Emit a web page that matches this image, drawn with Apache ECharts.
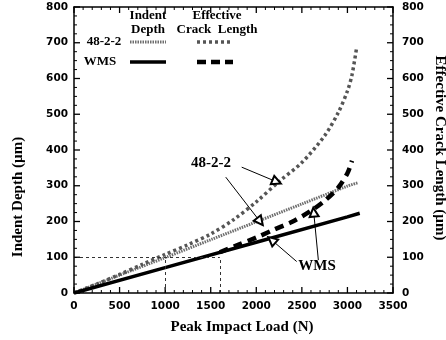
<!DOCTYPE html>
<html>
<head>
<meta charset="utf-8">
<script src="https://cdn.jsdelivr.net/npm/echarts@6/dist/echarts.min.js"></script>
<style>
html,body{margin:0;padding:0;background:#fff;}
#main{width:446px;height:340px;}
</style>
</head>
<body>
<div id="main"></div>
<script>
// ---- data ----
const xTicks = [0, 500, 1000, 1500, 2000, 2500, 3000, 3500];
const yTicks = [0, 100, 200, 300, 400, 500, 600, 700, 800];
const xMinorStep = 100;
const yMinorStep = 25;

const loadsIndent482 = [0, 500, 1000, 1500, 2000, 2500, 3000, 3110];
const indent482 = [0, 50, 99, 149, 199, 249, 299, 308];

const loadsCrack482 = [0, 250, 500, 750, 1000, 1250, 1500, 1750, 2000, 2250, 2500, 2750, 2900, 3000, 3050, 3100];
const crack482 = [0, 25, 52, 80, 108, 135, 165, 205, 255, 312, 365, 440, 505, 565, 610, 685];

const loadsIndentWMS = [0, 1000, 2000, 3000, 3135];
const indentWMS = [0, 71, 142, 213, 223];

const loadsCrackWMS = [1600, 1800, 2000, 2200, 2400, 2600, 2750, 2900, 3000, 3050];
const crackWMS = [114, 135, 155, 178, 200, 230, 258, 295, 335, 370];

// reference guide lines (value 100 µm at 1000 N and 1600 N)
const guideDepth = 100;
const guideLoads = [1000, 1600];

// annotation arrows: [from, to] in data units
const arrows482 = [[[1840, 352], [2224, 311]], [[1665, 324], [2041, 200]]];
const arrowsWMS = [[[2443, 88], [2170, 148]], [[2681, 92], [2630, 226]]];

function pairs(xs, ys) { return xs.map((x, i) => [x, ys[i]]); }

const SERIF = '"Liberation Serif","DejaVu Serif",serif';
const SANS = '"DejaVu Sans","Liberation Sans",sans-serif';

const xMin = xTicks[0], xMax = xTicks[xTicks.length - 1];
const yMin = yTicks[0], yMax = yTicks[yTicks.length - 1];

// inside tick marks on all four sides: [value, side, length]
const tickData = [];
for (let v = xMin; v <= xMax; v += xMinorStep) {
  const len = (v % (xTicks[1] - xTicks[0]) === 0) ? 6 : 3;
  tickData.push([v, 0, len], [v, 1, len]);
}
for (let v = yMin; v <= yMax; v += yMinorStep) {
  const len = (v % (yTicks[1] - yTicks[0]) === 0) ? 6 : 3;
  tickData.push([v, 2, len], [v, 3, len]);
}

const chart = echarts.init(document.getElementById('main'), null, {renderer: 'canvas'});

function xAx(pos, showLabel) {
  return {
    type: 'value', position: pos, min: xMin, max: xMax, interval: xTicks[1] - xTicks[0],
    axisLine: {show: true, onZero: false, lineStyle: {color: '#000', width: 1.5}},
    axisTick: {show: false},
    minorTick: {show: false},
    axisLabel: {show: showLabel, margin: 8, color: '#000', fontFamily: SANS, fontWeight: 'bold', fontSize: 10.5,
                formatter: v => String(v)},
    splitLine: {show: false}
  };
}
function yAx(pos, margin) {
  return {
    type: 'value', position: pos, min: yMin, max: yMax, interval: yTicks[1] - yTicks[0],
    axisLine: {show: true, onZero: false, lineStyle: {color: '#000', width: 1.5}},
    axisTick: {show: false},
    minorTick: {show: false},
    axisLabel: {show: true, margin: margin, color: '#000', fontFamily: SANS, fontWeight: 'bold', fontSize: 10.5,
                formatter: v => String(v)},
    splitLine: {show: false}
  };
}

function arrowData(list) {
  return list.map(a => [{coord: a[0]}, {coord: a[1]}]);
}

const guideLines = [
  [{coord: [0, guideDepth]}, {coord: [guideLoads[1], guideDepth]}],
  [{coord: [guideLoads[0], 0]}, {coord: [guideLoads[0], guideDepth]}],
  [{coord: [guideLoads[1], 0]}, {coord: [guideLoads[1], guideDepth]}]
];

function renderTick(params, api) {
  const v = api.value(0), side = api.value(1), len = api.value(2);
  let p, x2, y2;
  if (side === 0) { p = api.coord([v, yMin]); x2 = p[0]; y2 = p[1] - len; }
  else if (side === 1) { p = api.coord([v, yMax]); x2 = p[0]; y2 = p[1] + len; }
  else if (side === 2) { p = api.coord([xMin, v]); x2 = p[0] + len; y2 = p[1]; }
  else { p = api.coord([xMax, v]); x2 = p[0] - len; y2 = p[1]; }
  return {type: 'line', shape: {x1: p[0], y1: p[1], x2: x2, y2: y2},
          style: {stroke: '#000', lineWidth: len > 4 ? 1.3 : 1}};
}

const option = {
  backgroundColor: '#fff',
  animation: false,
  grid: {left: 74, right: 53, top: 7, bottom: 47},
  xAxis: [xAx('bottom', true), xAx('top', false)],
  yAxis: [yAx('left', 6), yAx('right', 9)],
  series: [
    {
      name: 'ticks', type: 'custom', xAxisIndex: 0, yAxisIndex: 0,
      data: tickData, renderItem: renderTick, clip: false, silent: true, z: 5
    },
    {
      name: '48-2-2 Indent Depth', type: 'line', xAxisIndex: 0, yAxisIndex: 0,
      data: pairs(loadsIndent482, indent482), showSymbol: false, smooth: 0.3,
      lineStyle: {color: '#6e6e6e', width: 3, type: [1.5, 1]},
      markLine: {
        silent: true, symbol: ['none', 'emptyTriangle'], symbolSize: 9,
        label: {show: false}, lineStyle: {color: '#000', width: 1, type: 'solid'},
        emphasis: {disabled: true},
        data: arrowData(arrows482)
      }
    },
    {
      name: '48-2-2 Effective Crack Length', type: 'line', xAxisIndex: 0, yAxisIndex: 1,
      data: pairs(loadsCrack482, crack482), showSymbol: false, smooth: 0.3,
      lineStyle: {color: '#555', width: 3.5, type: [3, 3]}
    },
    {
      name: 'WMS Indent Depth', type: 'line', xAxisIndex: 0, yAxisIndex: 0,
      data: pairs(loadsIndentWMS, indentWMS), showSymbol: false,
      lineStyle: {color: '#000', width: 3.5, type: 'solid'},
      markLine: {
        silent: true, symbol: ['none', 'emptyTriangle'], symbolSize: 9,
        label: {show: false}, lineStyle: {color: '#000', width: 1, type: 'solid'},
        emphasis: {disabled: true},
        data: arrowData(arrowsWMS)
      }
    },
    {
      name: 'WMS Effective Crack Length', type: 'line', xAxisIndex: 0, yAxisIndex: 1,
      data: pairs(loadsCrackWMS, crackWMS), showSymbol: false, smooth: 0.3,
      lineStyle: {color: '#000', width: 4.5, type: [9, 6]},
      markLine: {
        silent: true, symbol: ['none', 'none'],
        label: {show: false}, lineStyle: {color: '#333', width: 1, type: [3, 3]},
        emphasis: {disabled: true},
        data: guideLines
      }
    }
  ],
  graphic: [
    // axis titles
    {type: 'text', x: 18, y: 197, rotation: Math.PI / 2,
     style: {text: 'Indent Depth (\u00b5m)', font: 'bold 15px ' + SERIF, fill: '#000', align: 'center', verticalAlign: 'middle'}},
    {type: 'text', x: 440, y: 148, rotation: -Math.PI / 2,
     style: {text: 'Effective Crack Length (\u00b5m)', font: 'bold 15px ' + SERIF, fill: '#000', align: 'center', verticalAlign: 'middle'}},
    {type: 'text', x: 242, y: 327,
     style: {text: 'Peak Impact Load (N)', font: 'bold 15px ' + SERIF, fill: '#000', align: 'center', verticalAlign: 'middle'}},
    // legend headers
    {type: 'text', x: 148, y: 16, style: {text: 'Indent', font: 'bold 13px ' + SERIF, fill: '#000', align: 'center', verticalAlign: 'middle'}},
    {type: 'text', x: 148, y: 30, style: {text: 'Depth', font: 'bold 13px ' + SERIF, fill: '#000', align: 'center', verticalAlign: 'middle'}},
    {type: 'text', x: 217, y: 16, style: {text: 'Effective', font: 'bold 13px ' + SERIF, fill: '#000', align: 'center', verticalAlign: 'middle'}},
    {type: 'text', x: 217, y: 30, style: {text: 'Crack  Length', font: 'bold 13px ' + SERIF, fill: '#000', align: 'center', verticalAlign: 'middle'}},
    {type: 'text', x: 104, y: 42, style: {text: '48-2-2', font: 'bold 13px ' + SERIF, fill: '#000', align: 'center', verticalAlign: 'middle'}},
    {type: 'text', x: 100, y: 62, style: {text: 'WMS', font: 'bold 13px ' + SERIF, fill: '#000', align: 'center', verticalAlign: 'middle'}},
    // legend samples
    {type: 'line', shape: {x1: 130, y1: 42, x2: 166, y2: 42}, style: {stroke: '#6e6e6e', lineWidth: 3, lineDash: [1.5, 1]}},
    {type: 'line', shape: {x1: 197, y1: 42, x2: 233, y2: 42}, style: {stroke: '#555', lineWidth: 3.5, lineDash: [3, 3]}},
    {type: 'line', shape: {x1: 130, y1: 62, x2: 166, y2: 62}, style: {stroke: '#000', lineWidth: 3.5}},
    {type: 'line', shape: {x1: 197, y1: 62, x2: 233, y2: 62}, style: {stroke: '#000', lineWidth: 4.5, lineDash: [9, 5]}},
    // annotation labels
    {type: 'text', x: 211, y: 163, style: {text: '48-2-2', font: 'bold 15px ' + SERIF, fill: '#000', align: 'center', verticalAlign: 'middle'}},
    {type: 'text', x: 317, y: 266, style: {text: 'WMS', font: 'bold 15px ' + SERIF, fill: '#000', align: 'center', verticalAlign: 'middle'}}
  ]
};
chart.setOption(option);
</script>
</body>
</html>
